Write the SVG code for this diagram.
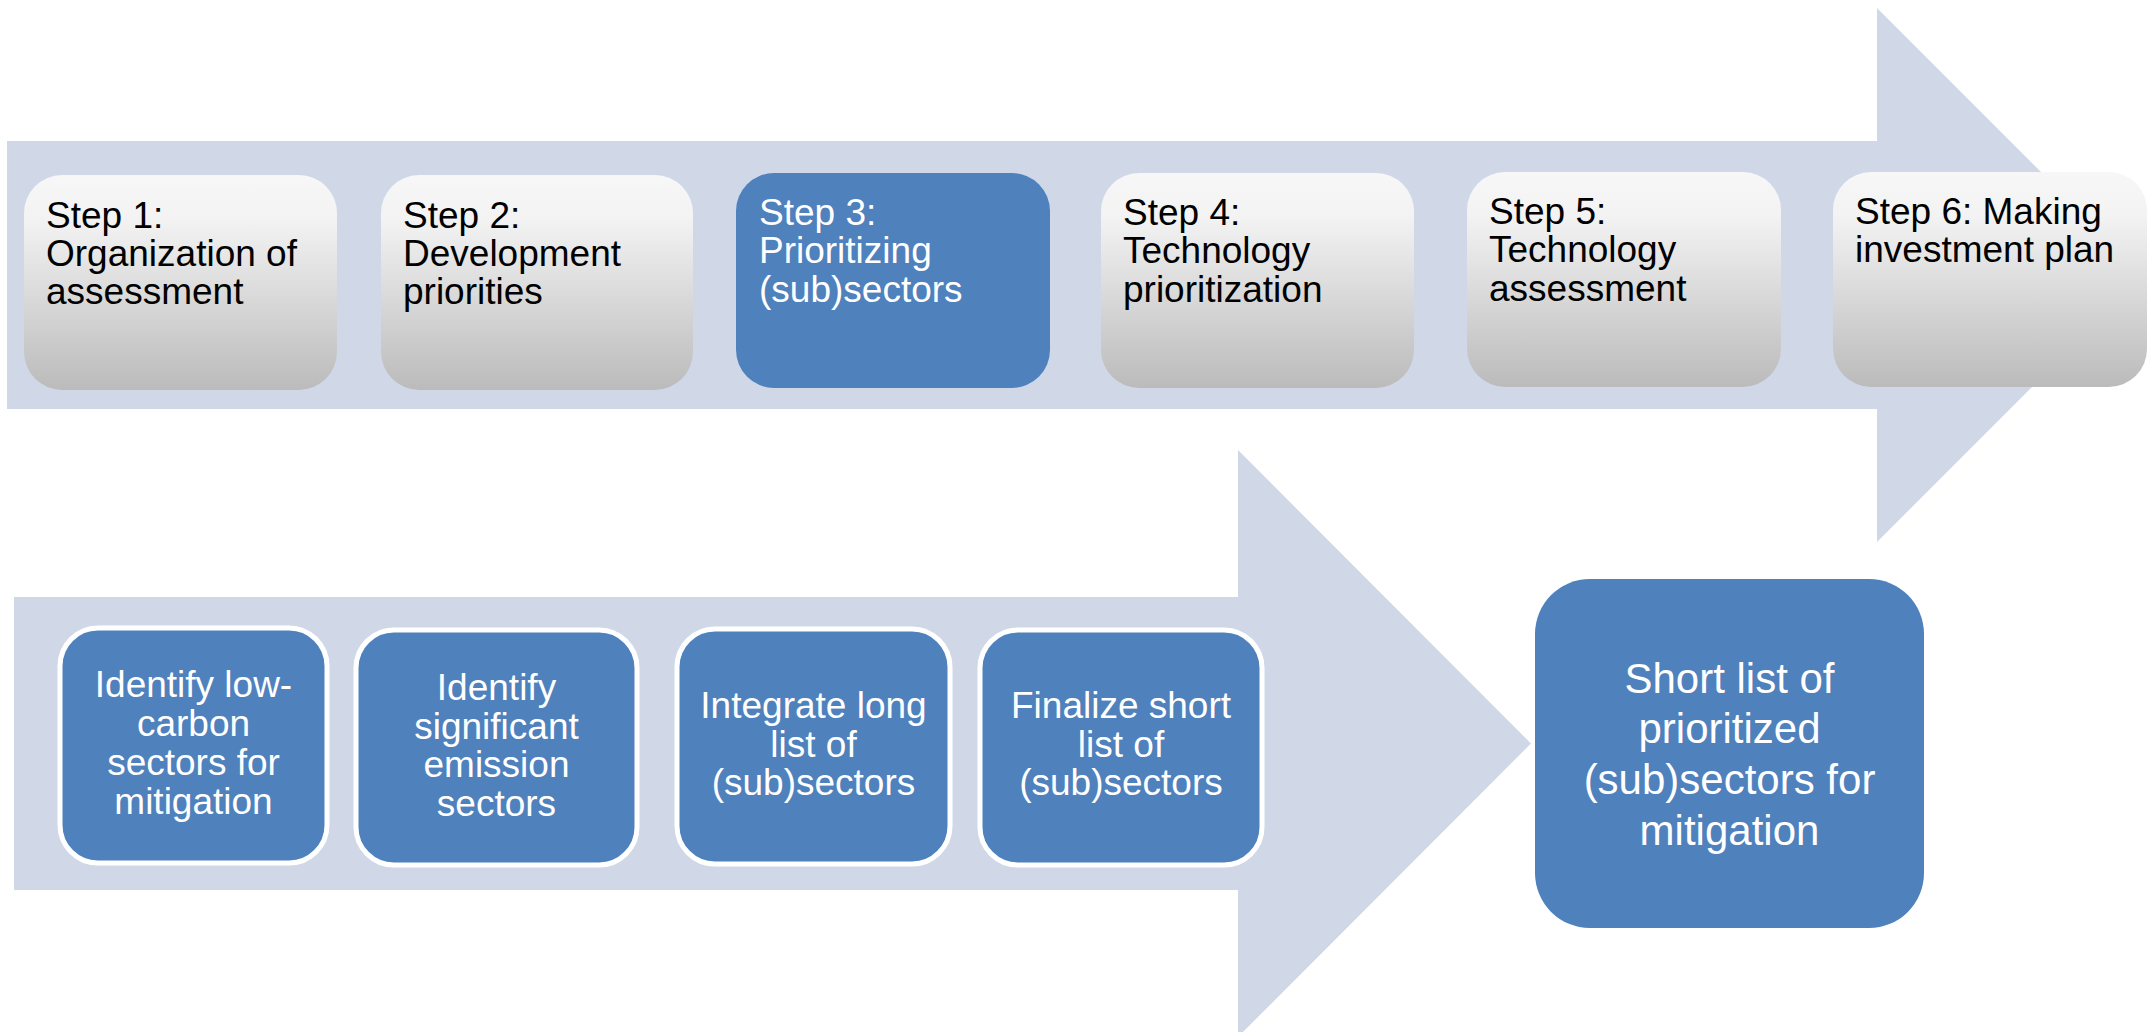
<svg xmlns="http://www.w3.org/2000/svg" width="2151" height="1032" viewBox="0 0 2151 1032">
<defs>
<linearGradient id="gray" x1="0" y1="0" x2="0" y2="1">
<stop offset="0" stop-color="#f7f7f7"/>
<stop offset="0.2" stop-color="#f3f3f3"/>
<stop offset="1" stop-color="#bbbbbb"/>
</linearGradient>
</defs>
<style>
.band{fill:#d0d8e8}
.gbox{fill:url(#gray)}
.bbox{fill:#4f81bd}
.wbox{fill:#4f81bd;stroke:#ffffff;stroke-width:5}
text{font-family:"Liberation Sans",Arial,sans-serif}
.tl{font-size:37px;fill:#000000}
.tw{font-size:37px;fill:#ffffff}
.tc{font-size:37px;fill:#ffffff;text-anchor:middle}
.tb{font-size:42px;fill:#ffffff;text-anchor:middle}
</style>
<g id="arrows">
<polygon id="top-arrow" class="band" points="7,141 1877,141 1877,8 2144,275 1877,542 1877,409 7,409"/>
<polygon id="bottom-arrow" class="band" points="14,597 1238,597 1238,450 1531,743.5 1238,1037 1238,890 14,890"/>
</g>
<g id="step1">
<rect class="gbox" x="24" y="175" width="313" height="215" rx="38"/>
<text class="tl" x="46"><tspan x="46" y="228">Step 1:</tspan><tspan x="46" y="266">Organization of</tspan><tspan x="46" y="304">assessment</tspan></text>
</g>
<g id="step2">
<rect class="gbox" x="381" y="175" width="312" height="215" rx="38"/>
<text class="tl"><tspan x="403" y="228">Step 2:</tspan><tspan x="403" y="266">Development</tspan><tspan x="403" y="304">priorities</tspan></text>
</g>
<g id="step3">
<rect class="bbox" x="736" y="173" width="314" height="215" rx="38"/>
<text class="tw"><tspan x="759" y="225">Step 3:</tspan><tspan x="759" y="263">Prioritizing</tspan><tspan x="759" y="302">(sub)sectors</tspan></text>
</g>
<g id="step4">
<rect class="gbox" x="1101" y="173" width="313" height="215" rx="38"/>
<text class="tl"><tspan x="1123" y="225">Step 4:</tspan><tspan x="1123" y="263">Technology</tspan><tspan x="1123" y="302">prioritization</tspan></text>
</g>
<g id="step5">
<rect class="gbox" x="1467" y="172" width="314" height="215" rx="38"/>
<text class="tl"><tspan x="1489" y="224">Step 5:</tspan><tspan x="1489" y="262">Technology</tspan><tspan x="1489" y="301">assessment</tspan></text>
</g>
<g id="step6">
<rect class="gbox" x="1833" y="172" width="314" height="215" rx="38"/>
<text class="tl"><tspan x="1855" y="224">Step 6: Making</tspan><tspan x="1855" y="262">investment plan</tspan></text>
</g>
<g id="sub1">
<rect class="wbox" x="60" y="628" width="267" height="235" rx="38"/>
<text class="tc"><tspan x="193.5" y="697">Identify low-</tspan><tspan x="193.5" y="736">carbon</tspan><tspan x="193.5" y="775">sectors for</tspan><tspan x="193.5" y="814">mitigation</tspan></text>
</g>
<g id="sub2">
<rect class="wbox" x="356" y="630" width="281" height="235" rx="38"/>
<text class="tc"><tspan x="496.5" y="700">Identify</tspan><tspan x="496.5" y="739">significant</tspan><tspan x="496.5" y="777">emission</tspan><tspan x="496.5" y="816">sectors</tspan></text>
</g>
<g id="sub3">
<rect class="wbox" x="677" y="629" width="273" height="235" rx="38"/>
<text class="tc"><tspan x="813.5" y="718">Integrate long</tspan><tspan x="813.5" y="757">list of</tspan><tspan x="813.5" y="795">(sub)sectors</tspan></text>
</g>
<g id="sub4">
<rect class="wbox" x="980" y="630" width="282" height="235" rx="38"/>
<text class="tc"><tspan x="1121" y="718">Finalize short</tspan><tspan x="1121" y="757">list of</tspan><tspan x="1121" y="795">(sub)sectors</tspan></text>
</g>
<g id="result">
<rect class="bbox" x="1535" y="579" width="389" height="349" rx="55"/>
<text class="tb"><tspan x="1729.5" y="693">Short list of</tspan><tspan x="1729.5" y="743">prioritized</tspan><tspan x="1729.5" y="794">(sub)sectors for</tspan><tspan x="1729.5" y="845">mitigation</tspan></text>
</g>
</svg>
